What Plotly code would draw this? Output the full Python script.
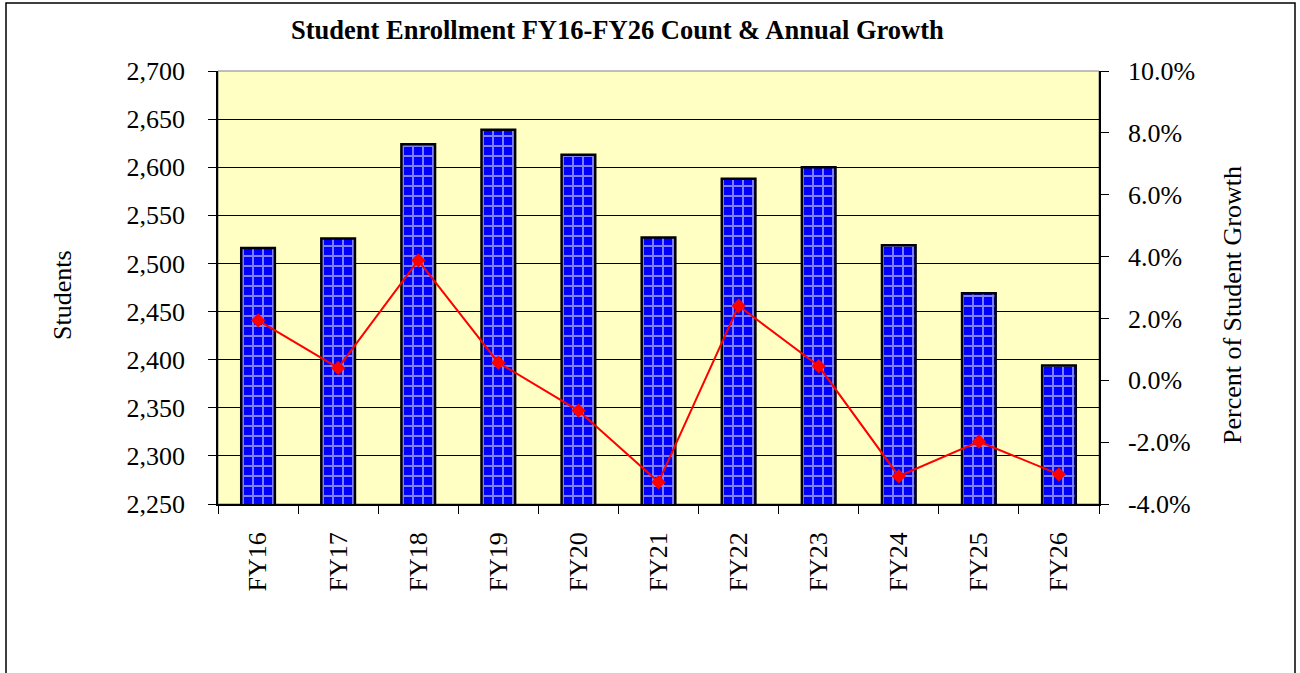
import plotly.graph_objects as go

categories = ["FY16", "FY17", "FY18", "FY19", "FY20", "FY21", "FY22", "FY23", "FY24", "FY25", "FY26"]
students = [2516, 2526, 2624, 2639, 2613, 2527, 2588, 2600, 2519, 2469, 2394]
growth_pct = [1.94, 0.40, 3.88, 0.57, -0.98, -3.29, 2.41, 0.46, -3.10, -1.98, -3.04]

left_ticks = list(range(2250, 2701, 50))
right_ticks = list(range(-4, 11, 2))

font_family = "Liberation Serif, Times New Roman, serif"

L, R, T, B = 218, 1099, 71, 504
PW, PH = R - L, B - T

def px(x):
    return (x - L) / PW

def py(y):
    return (B - y) / PH

fig = go.Figure()
fig.add_trace(go.Bar(
    x=categories, y=students, width=0.42,
    marker=dict(color="#0000FF", line=dict(color="black", width=2.5),
                pattern=dict(shape="+", fgcolor="white", bgcolor="#0000FF", size=10, solidity=0.35)),
    showlegend=False, yaxis="y",
))
fig.add_trace(go.Scatter(
    x=categories, y=growth_pct, mode="lines+markers",
    line=dict(color="#FF0000", width=2),
    marker=dict(symbol="diamond", size=11, color="#FF0000"),
    showlegend=False, yaxis="y2",
))

fig.update_layout(
    width=1300, height=673,
    margin=dict(l=L, r=1300 - R, t=T, b=673 - B),
    paper_bgcolor="white", plot_bgcolor="#FFFFC4",
    font=dict(family=font_family, size=26, color="black"),
    bargap=0.58,
    xaxis=dict(type="category", range=[-0.5, len(categories) - 0.5], tickangle=-90,
               tickson="boundaries", ticks="outside",
               ticklen=8, tickcolor="black", showline=True, linecolor="black", linewidth=1.5,
               showgrid=False, tickfont=dict(size=26), ticklabelstandoff=16),
    yaxis=dict(range=[2250, 2700], tickvals=left_ticks, tickformat=",", ticks="outside",
               ticklen=8, tickcolor="black", showline=True, linecolor="black", linewidth=1.5,
               showgrid=True, gridcolor="black", gridwidth=1, zeroline=False,
               tickfont=dict(size=26), ticklabelstandoff=18),
    yaxis2=dict(range=[-4, 10], tickvals=right_ticks,
                ticktext=[f"{v:.1f}%" for v in right_ticks], overlaying="y", side="right",
                ticks="outside", ticklen=8, tickcolor="black", showline=True, linecolor="black",
                linewidth=1.5, showgrid=False, zeroline=False,
                tickfont=dict(size=26), ticklabelstandoff=14),
    annotations=[
        dict(text="<b>Student Enrollment FY16-FY26 Count & Annual Growth</b>", xref="paper", yref="paper",
             x=px(617), y=py(30), xanchor="center", yanchor="middle", showarrow=False,
             font=dict(size=26.5)),
        dict(text="Students", xref="paper", yref="paper", x=px(62), y=py(295), textangle=-90,
             xanchor="center", yanchor="middle", showarrow=False, font=dict(size=26)),
        dict(text="Percent of Student Growth", xref="paper", yref="paper", x=px(1232), y=py(305),
             textangle=-90, xanchor="center", yanchor="middle", showarrow=False, font=dict(size=26)),
    ],
    shapes=[
        dict(type="rect", xref="paper", yref="paper", x0=0, x1=1, y0=0, y1=1,
             line=dict(color="#808080", width=1), layer="below"),
        dict(type="rect", xref="paper", yref="paper", x0=px(6), x1=px(1295),
             y0=py(700), y1=py(3), line=dict(color="black", width=1.5)),
    ],
)

fig.write_html("out.html", config={"displayModeBar": False},
               post_script="document.body.style.margin='0';")
